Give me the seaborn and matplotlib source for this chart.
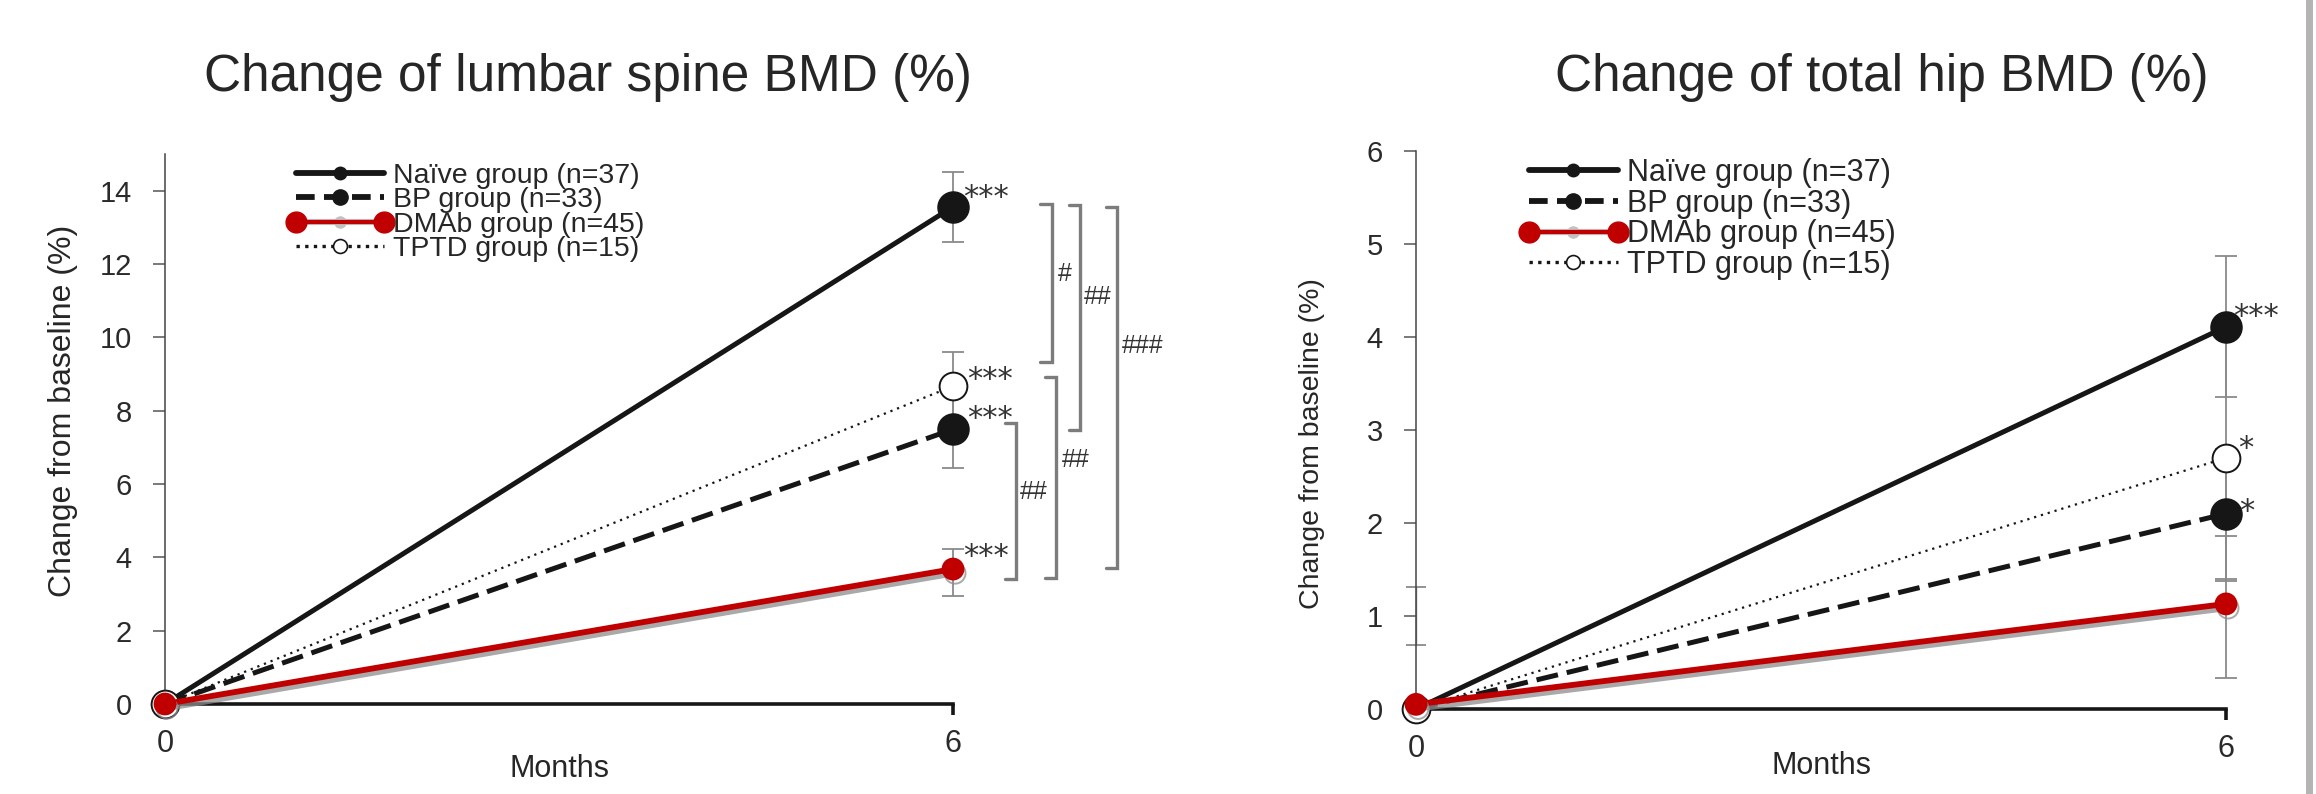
import numpy as np
import pandas as pd
import matplotlib
matplotlib.use("Agg")
import matplotlib.pyplot as plt
import matplotlib.patheffects as pe
from matplotlib.lines import Line2D
from matplotlib.legend_handler import HandlerLine2D
import seaborn as sns

# ---------------- data ----------------
months = [0, 6]
group_labels = ["Naïve group (n=37)", "BP group (n=33)", "DMAb group (n=45)", "TPTD group (n=15)"]
group_keys = ["naive", "bp", "dmab", "tptd"]

# lumbar spine BMD change (%)
ls_naive = [0.0, 13.56]
ls_bp = [0.0, 7.49]
ls_dmab = [0.0, 3.68]
ls_tptd = [0.0, 8.67]
ls_err_lo = [0.96, 1.05, 0.74, 0.93]   # at 6 months, order: naive, bp, dmab, tptd
ls_err_hi = [0.95, 1.05, 0.55, 0.93]
ls_stars = ["***", "***", "***", "***"]

# total hip BMD change (%)
th_naive = [0.0, 4.11]
th_bp = [0.0, 2.10]
th_dmab = [0.05, 1.13]
th_tptd = [0.0, 2.70]
th_err_lo = [0.76, 0.70, 0.80, 1.32]
th_err_hi = [0.76, 0.70, 0.73, 1.32]
th_stars = ["***", "*", "", "*"]
th_base_err_center = [1.0]
th_base_err = [0.31]

# between-group comparisons (lumbar spine): y ranges and labels
cmp_y_top = [13.63, 13.60, 13.55, 8.92, 7.67]
cmp_y_bot = [9.32, 7.47, 3.70, 3.44, 3.41]
cmp_labels = ["#", "##", "###", "##", "##"]

titles = ["Change of lumbar spine BMD (%)", "Change of total hip BMD (%)"]
ylabel = "Change from baseline (%)"
xlabel = "Months"

# ---------------- style ----------------
sns.set_style("ticks")
plt.rcParams["font.family"] = ["Liberation Sans", "DejaVu Sans"]
TXT = "#262626"
BLACK = "#161616"
RED = "#C00000"
EGRAY = "#8a8a8a"
BGRAY = "#7c7c7c"

styles = {
    "naive": dict(color=BLACK, lw=3.6, marker="o", ms=22, mfc=BLACK, mec=BLACK, ls="-", z=5, every=[1]),
    "bp": dict(color=BLACK, lw=3.6, marker="o", ms=22, mfc=BLACK, mec=BLACK, ls=(0, (4.4, 1.8)), z=4, every=[1]),
    "dmab": dict(color=RED, lw=4.2, marker="o", ms=15, mfc=RED, mec=RED, ls="-", z=7, every=[0, 1]),
    "tptd": dict(color=BLACK, lw=1.6, marker="o", ms=20, mfc="white", mec=BLACK, ls=(0, (1, 2.2)), z=6, every=[0, 1]),
}

fig = plt.figure(figsize=(23.16, 7.94), dpi=100)
W, H = 2316.0, 794.0
ax1 = fig.add_axes([165 / W, 90 / H, 788 / W, 550 / H])
ax2 = fig.add_axes([1416 / W, 85 / H, 810 / W, 558 / H])


def draw_panel(ax, series, err_lo, err_hi, stars, ymax, yticks, star_offsets, ylab_size, xlab_pad):
    rows = []
    for key, vals in zip(group_keys, series):
        for m, v in zip(months, vals):
            rows.append({"Months": m, "value": v, "group": key})
    df = pd.DataFrame(rows)
    # error bars at 6 months
    vals6 = [s[1] for s in series]
    ax.errorbar([months[1]] * 4, vals6, yerr=[err_lo, err_hi], fmt="none",
                ecolor=EGRAY, elinewidth=1.3, capsize=8, capthick=1.3, zorder=1, clip_on=False)
    for key in ["tptd", "bp", "naive", "dmab"]:
        st = styles[key]
        sub = df[df["group"] == key]
        extra = {}
        if key == "dmab":
            extra["path_effects"] = [pe.SimpleLineShadow(offset=(1.5, -3), shadow_color="#8c8c8c", alpha=0.75),
                                     pe.Normal()]
        sns.lineplot(data=sub, x="Months", y="value", ax=ax, color=st["color"], lw=st["lw"],
                     linestyle=st["ls"], marker=st["marker"], markersize=st["ms"],
                     markerfacecolor=st["mfc"], markeredgecolor=st["mec"], markeredgewidth=1.4,
                     markevery=st["every"], zorder=st["z"], clip_on=False, legend=False,
                     errorbar=None, **extra)
    # significance stars
    for v, s, (dx, dy) in zip(vals6, stars, star_offsets):
        if s:
            ax.annotate(s, xy=(months[1], v), xytext=(dx, dy), textcoords="offset pixels",
                        ha="left", va="baseline", fontsize=22, color="#333333",
                        family="DejaVu Sans", annotation_clip=False, zorder=8)
    ax.set_xlim(0, 6)
    ax.set_ylim(0, ymax)
    ax.set_xticks([0, 6])
    ax.set_yticks(yticks)
    ax.set_xlabel(xlabel, fontsize=22, color=TXT, labelpad=xlab_pad)
    ax.set_ylabel(ylabel, fontsize=ylab_size, color=TXT)
    for side in ["top", "right"]:
        ax.spines[side].set_visible(False)
    ax.spines["left"].set_color("#444444")
    ax.spines["left"].set_linewidth(1.1)
    ax.spines["bottom"].set_color(BLACK)
    ax.spines["bottom"].set_linewidth(2.6)
    ax.tick_params(axis="y", direction="out", length=9, width=1.1, color="#555555",
                   labelsize=21, labelcolor="#2a2a2a", pad=15)
    ax.tick_params(axis="x", direction="out", length=8, width=2.6, color=BLACK,
                   labelsize=22, labelcolor="#2a2a2a", pad=10)
    ax.xaxis.get_major_ticks()[0].tick1line.set_visible(False)
    ax.grid(False)


draw_panel(ax1, [ls_naive, ls_bp, ls_dmab, ls_tptd], ls_err_lo, ls_err_hi, ls_stars, 15,
           [0, 2, 4, 6, 8, 10, 12, 14],
           [(10, 1), (14, 2), (10, 4), (14, -2)], 23, -3.5)
draw_panel(ax2, [th_naive, th_bp, th_dmab, th_tptd], th_err_lo, th_err_hi, th_stars, 6,
           [0, 1, 2, 3, 4, 5, 6],
           [(7, 2), (13, -6), (0, 0), (12, 1)], 20.5, -9)

# stray baseline error bar on hip panel
ax2.errorbar([0], th_base_err_center, yerr=[th_base_err], fmt="none", ecolor=EGRAY,
             elinewidth=1.0, capsize=7, capthick=1.3, zorder=1, clip_on=False)

ax1.yaxis.set_label_coords(-0.111, 0.533)
ax2.yaxis.set_label_coords(-0.112, 0.475)

# comparison brackets on lumbar panel
cmp_x = [6.751, 6.968, 7.250, 6.788, 6.480]
lab_pos = [(6.848, 11.74), (7.101, 11.11), (7.445, 9.76), (6.937, 6.65), (6.612, 5.79)]
arm = 0.085
for x, yt, yb, lab, (lx, ly) in zip(cmp_x, cmp_y_top, cmp_y_bot, cmp_labels, lab_pos):
    ax1.plot([x - arm, x, x, x - arm], [yt, yt, yb, yb], color=BGRAY, lw=2.4,
             solid_joinstyle="miter", clip_on=False, zorder=2)
    ax1.text(lx, ly, lab, ha="center", va="center", fontsize=18, color="#333333",
             clip_on=False, zorder=3)

# legends
def make_handles():
    h_naive = Line2D([], [], color=BLACK, lw=4.2, marker="o", ms=9, mfc=BLACK, mec=BLACK)
    h_bp = Line2D([], [], color=BLACK, lw=4.2, ls=(0, (3.2, 1.6)), marker="o", ms=11, mfc=BLACK, mec=BLACK)
    h_gray = Line2D([], [], color="#c2c2c2", lw=4.5, marker="o", ms=8, mfc="#c2c2c2", mec="#c2c2c2")
    h_red = Line2D([], [], color=RED, lw=3.0, marker="o", ms=15, mfc=RED, mec=RED)
    h_tptd = Line2D([], [], color=BLACK, lw=2.4, ls=(0, (1, 1.6)), marker="o", ms=10, mfc="white",
                    mec=BLACK, mew=1.2)
    return [h_naive, h_bp, (h_gray, h_red), h_tptd], h_red


for ax, (fx, fy), fs, lsp in [(ax1, (296, 163), 20.5, -0.06), (ax2, (1529, 158), 22, 0.02)]:
    handles, h_red = make_handles()
    leg = ax.legend(handles, group_labels, loc="upper left",
                    bbox_to_anchor=(fx / W, 1 - fy / H), bbox_transform=fig.transFigure,
                    frameon=False, fontsize=fs, labelspacing=lsp, handlelength=3.1 if fs < 22 else 2.9,
                    handletextpad=0.3, borderpad=0, borderaxespad=0, numpoints=1,
                    handler_map={h_red: HandlerLine2D(numpoints=2, marker_pad=0.0)})
    for t in leg.get_texts():
        t.set_color(TXT)

# titles
fig.text(588 / W, 1 - 77 / H, titles[0], ha="center", va="center", fontsize=37, color=TXT)
fig.text(1882 / W, 1 - 77 / H, titles[1], ha="center", va="center", fontsize=37, color=TXT)

# gray frame edge at right
fig.add_artist(Line2D([2309 / W, 2309 / W], [0, 1], color="#b4b4b4", lw=5, transform=fig.transFigure))

fig.savefig("out.png", dpi=100, facecolor="white")
